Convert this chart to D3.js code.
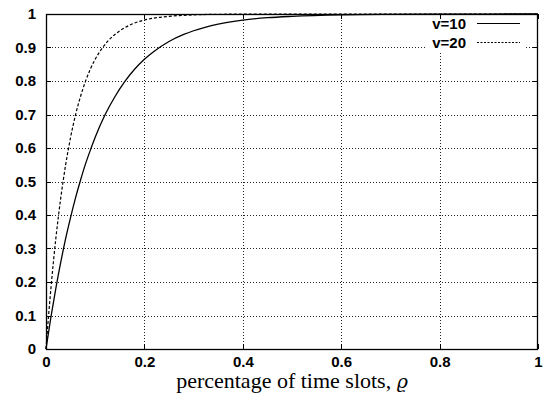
<!DOCTYPE html>
<html>
<head>
<meta charset="utf-8">
<script src="https://cdn.jsdelivr.net/npm/d3@7"></script>
<style>
  html, body { margin: 0; padding: 0; background: #fff; }
  svg { display: block; }
</style>
</head>
<body>
<svg id="chart" width="548" height="402"></svg>
<script>
// ---- data ----
const xTicks = [0, 0.2, 0.4, 0.6, 0.8, 1];
const yTicks = [0, 0.1, 0.2, 0.3, 0.4, 0.5, 0.6, 0.7, 0.8, 0.9, 1];
const xTickLabels = ["0", "0.2", "0.4", "0.6", "0.8", "1"];
const yTickLabels = ["0", "0.1", "0.2", "0.3", "0.4", "0.5", "0.6", "0.7", "0.8", "0.9", "1"];
const seriesNames = ["v=10", "v=20"];

const rho10 = [0, 0.01, 0.02, 0.03, 0.04, 0.05, 0.06, 0.07, 0.08, 0.09, 0.10, 0.12, 0.14, 0.16, 0.18, 0.20, 0.22, 0.25, 0.28, 0.30, 0.35, 0.40, 0.45, 0.50, 0.60, 0.70, 0.80, 0.90, 1.00];
const p10   = [0, 0.095, 0.181, 0.259, 0.330, 0.393, 0.451, 0.503, 0.551, 0.593, 0.632, 0.699, 0.753, 0.798, 0.835, 0.865, 0.889, 0.918, 0.939, 0.950, 0.970, 0.982, 0.989, 0.993, 0.9975, 0.9991, 0.9997, 0.9999, 1.0];

const rho20 = [0, 0.005, 0.01, 0.015, 0.02, 0.025, 0.03, 0.035, 0.04, 0.045, 0.05, 0.06, 0.07, 0.08, 0.09, 0.10, 0.11, 0.125, 0.14, 0.15, 0.175, 0.20, 0.225, 0.25, 0.30, 0.35, 0.40, 0.45, 0.50, 0.60, 0.80, 1.00];
const p20   = [0, 0.095, 0.181, 0.259, 0.330, 0.393, 0.451, 0.503, 0.551, 0.593, 0.632, 0.699, 0.753, 0.798, 0.835, 0.865, 0.889, 0.918, 0.939, 0.950, 0.970, 0.982, 0.989, 0.993, 0.9975, 0.9991, 0.9997, 0.9999, 1.0, 1.0, 1.0, 1.0];

const xTitle = "percentage of time slots, ";
const xTitleSym = "ϱ";

// ---- layout ----
const L = 46, R = 538, T = 14, B = 349;
const svg = d3.select("#chart");
const x = d3.scaleLinear().domain([0, 1]).range([L, R]);
const y = d3.scaleLinear().domain([0, 1]).range([B, T]);
const tickFont = "'Liberation Sans', Arial, Helvetica, sans-serif";

// grid
const grid = svg.append("g").attr("stroke", "#222").attr("stroke-width", 1)
  .attr("stroke-dasharray", "1,2").attr("fill", "none");
yTicks.filter(v => v > 0 && v < 1).forEach(v => {
  grid.append("line").attr("x1", L).attr("x2", R)
    .attr("y1", Math.round(y(v)) + 0.5).attr("y2", Math.round(y(v)) + 0.5);
});
xTicks.filter(v => v > 0 && v < 1).forEach(v => {
  grid.append("line").attr("y1", T).attr("y2", B)
    .attr("x1", Math.round(x(v)) + 0.5).attr("x2", Math.round(x(v)) + 0.5);
});

// legend background (key blanks the grid)
svg.append("rect").attr("x", 426).attr("y", T + 1).attr("width", 98).attr("height", 36).attr("fill", "#fff");

// ticks (inward, mirrored)
const tk = svg.append("g").attr("stroke", "#000").attr("stroke-width", 1);
xTicks.forEach(v => {
  const px = Math.round(x(v)) + 0.5;
  tk.append("line").attr("x1", px).attr("x2", px).attr("y1", B).attr("y2", B - 5);
  tk.append("line").attr("x1", px).attr("x2", px).attr("y1", T).attr("y2", T + 5);
});
yTicks.forEach(v => {
  const py = Math.round(y(v)) + 0.5;
  tk.append("line").attr("x1", L).attr("x2", L + 5).attr("y1", py).attr("y2", py);
  tk.append("line").attr("x1", R).attr("x2", R - 5).attr("y1", py).attr("y2", py);
});

// axes labels via d3 axes (lines hidden)
const xAxis = d3.axisBottom(x).tickValues(xTicks).tickFormat((d, i) => xTickLabels[i]).tickSize(0).tickPadding(7);
const gx = svg.append("g").attr("transform", `translate(0,${B})`).call(xAxis);
const yAxis = d3.axisLeft(y).tickValues(yTicks).tickFormat((d, i) => yTickLabels[i]).tickSize(0).tickPadding(10);
const gy = svg.append("g").attr("transform", `translate(${L},0)`).call(yAxis);
[gx, gy].forEach(g => {
  g.select(".domain").remove();
  g.selectAll("text").attr("font-family", tickFont).attr("font-size", 15)
    .attr("font-weight", "bold").attr("fill", "#000");
});

// curves
const line = d3.line().x(d => x(d[0])).y(d => y(d[1])).curve(d3.curveMonotoneX);
const d10 = rho10.map((r, i) => [r, p10[i]]);
const d20 = rho20.map((r, i) => [r, p20[i]]);
svg.append("path").datum(d10).attr("d", line).attr("fill", "none")
  .attr("stroke", "#000").attr("stroke-width", 1.3);
svg.append("path").datum(d20).attr("d", line).attr("fill", "none")
  .attr("stroke", "#000").attr("stroke-width", 1.2).attr("stroke-dasharray", "3,2");

// border
svg.append("rect").attr("x", L + 0.5).attr("y", T + 0.5).attr("width", R - L - 1).attr("height", B - T)
  .attr("fill", "none").attr("stroke", "#000").attr("stroke-width", 1.3);

// legend
const leg = svg.append("g");
const legY = [23.5, 42.5];
seriesNames.forEach((n, i) => {
  leg.append("text").attr("x", 466).attr("y", legY[i] + 5).attr("text-anchor", "end")
    .attr("font-family", tickFont).attr("font-size", 15).attr("font-weight", "bold").text(n);
  leg.append("line").attr("x1", 477).attr("x2", 520).attr("y1", legY[i]).attr("y2", legY[i])
    .attr("stroke", "#000").attr("stroke-width", 1.2)
    .attr("stroke-dasharray", i === 1 ? "2,1.5" : null);
});

// x title
const tt = svg.append("text").attr("x", (L + R) / 2).attr("y", 388).attr("text-anchor", "middle")
  .attr("font-family", "'Liberation Serif', 'Times New Roman', serif").attr("font-size", 22).attr("fill", "#000");
tt.append("tspan").text(xTitle);
tt.append("tspan").attr("font-style", "italic").attr("font-family", "'DejaVu Serif', 'Liberation Serif', serif").attr("font-size", 19).text(xTitleSym);
</script>
</body>
</html>
